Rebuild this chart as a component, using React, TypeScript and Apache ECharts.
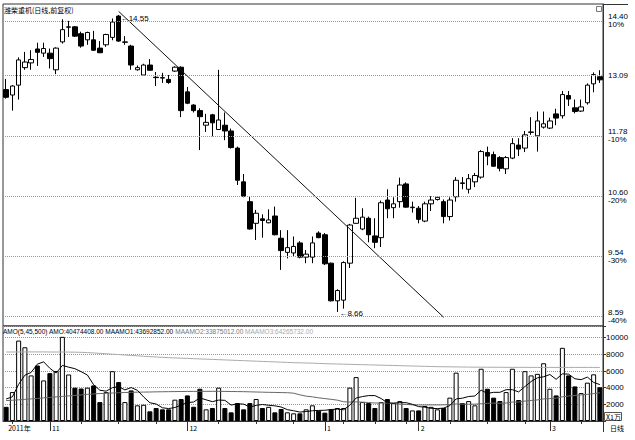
import React, { useEffect, useRef } from 'react';
import * as echarts from 'echarts';

// Trading days shown on the daily chart
const dates = [
  '2011-10-21','2011-10-24','2011-10-25','2011-10-26','2011-10-27','2011-10-28','2011-10-31',
  '2011-11-01','2011-11-02','2011-11-03','2011-11-04','2011-11-07','2011-11-08','2011-11-09','2011-11-10','2011-11-11',
  '2011-11-14','2011-11-15','2011-11-16','2011-11-17','2011-11-18','2011-11-21','2011-11-22','2011-11-23','2011-11-24',
  '2011-11-25','2011-11-28','2011-11-29','2011-11-30',
  '2011-12-01','2011-12-02','2011-12-05','2011-12-06','2011-12-07','2011-12-08','2011-12-09','2011-12-12','2011-12-13',
  '2011-12-14','2011-12-15','2011-12-16','2011-12-19','2011-12-20','2011-12-21','2011-12-22','2011-12-23','2011-12-26',
  '2011-12-27','2011-12-28','2011-12-29','2011-12-30',
  '2012-01-04','2012-01-05','2012-01-06','2012-01-09','2012-01-10','2012-01-11','2012-01-12','2012-01-13','2012-01-16',
  '2012-01-17','2012-01-18','2012-01-19','2012-01-20','2012-01-30','2012-01-31',
  '2012-02-01','2012-02-02','2012-02-03','2012-02-06','2012-02-07','2012-02-08','2012-02-09','2012-02-10','2012-02-13',
  '2012-02-14','2012-02-15','2012-02-16','2012-02-17','2012-02-20','2012-02-21','2012-02-22','2012-02-23','2012-02-24',
  '2012-02-27','2012-02-28','2012-02-29',
  '2012-03-01','2012-03-02','2012-03-05','2012-03-06','2012-03-07','2012-03-08','2012-03-09','2012-03-12','2012-03-13',
];

const opens = [
  12.77, 12.65, 12.87, 13.27, 13.38, 13.71, 13.61, 13.61, 13.22, 13.88,
  14.24, 14.25, 14.08, 13.93, 13.93, 13.73, 13.81, 13.99, 14.52, 13.87,
  13.78, 13.22, 13.10, 13.33, 13.05, 13.04, 13.00, 13.19, 13.28, 12.72,
  12.43, 12.31, 12.00, 12.22, 11.91, 12.00, 11.88, 11.53, 10.87, 10.50,
  10.11, 10.19, 10.12, 10.24, 9.85, 9.61, 9.60, 9.77, 9.53, 9.53,
  9.94, 9.91, 9.43, 8.83, 8.84, 9.43, 10.11, 10.01, 10.20, 9.89,
  9.86, 10.53, 10.39, 10.50, 10.83, 10.39, 10.38, 10.15, 10.46, 10.54,
  10.50, 10.23, 10.59, 10.85, 10.73, 10.87, 10.96, 11.44, 11.40, 11.34,
  11.12, 11.33, 11.59, 11.53, 11.85, 11.78, 11.96, 11.94, 12.24, 12.20,
  12.64, 12.37, 12.30, 12.48, 12.90, 13.06,
];

const closes = [
  12.60, 12.85, 13.45, 13.40, 13.46, 13.63, 13.72, 13.48, 13.73, 14.18,
  14.25, 14.02, 13.78, 14.11, 13.68, 13.62, 14.06, 14.37, 13.90, 13.88,
  13.33, 13.27, 13.33, 13.21, 13.04, 13.03, 12.93, 13.28, 12.31, 12.47,
  12.31, 12.18, 12.06, 12.05, 12.11, 11.88, 11.54, 10.90, 10.60, 10.01,
  10.29, 10.16, 10.17, 9.91, 9.64, 9.69, 9.71, 9.53, 9.58, 9.77,
  9.86, 9.42, 8.83, 8.99, 9.44, 10.08, 10.20, 10.22, 9.91, 9.78,
  10.48, 10.37, 10.46, 10.81, 10.40, 10.40, 10.18, 10.46, 10.53, 10.58,
  10.23, 10.53, 10.90, 10.84, 10.93, 10.99, 11.46, 11.37, 11.17, 11.13,
  11.34, 11.62, 11.51, 11.80, 11.86, 12.09, 12.03, 12.09, 12.15, 12.66,
  12.56, 12.29, 12.39, 12.87, 13.11, 12.99,
];

const lows = [
  12.57, 12.31, 12.55, 13.22, 13.22, 13.31, 13.52, 13.25, 13.12, 13.84,
  14.00, 14.00, 13.74, 13.81, 13.66, 13.61, 13.76, 13.92, 13.88, 13.81,
  13.22, 13.20, 13.09, 13.20, 12.85, 12.92, 12.90, 13.17, 12.17, 12.45,
  12.27, 11.49, 11.86, 11.77, 11.90, 11.69, 11.52, 10.81, 10.58, 10.00,
  9.82, 9.86, 10.11, 9.90, 9.32, 9.51, 9.55, 9.51, 9.43, 9.43,
  9.85, 9.40, 8.82, 8.66, 8.71, 9.35, 10.10, 9.99, 9.78, 9.68,
  9.70, 10.20, 10.20, 10.39, 10.39, 10.30, 10.11, 10.13, 10.33, 10.52,
  10.11, 10.16, 10.50, 10.73, 10.65, 10.77, 10.93, 11.19, 11.16, 11.07,
  11.02, 11.31, 11.37, 11.45, 11.80, 11.46, 11.93, 11.92, 12.00, 12.14,
  12.41, 12.25, 12.28, 12.44, 12.71, 12.92,
];

const highs = [
  13.01, 12.87, 13.51, 13.64, 13.68, 13.86, 13.86, 13.72, 13.75, 14.44,
  14.40, 14.27, 14.13, 14.13, 14.15, 13.90, 14.08, 14.46, 14.55, 14.02,
  13.81, 13.32, 13.36, 13.47, 13.17, 13.15, 13.10, 13.30, 13.30, 12.83,
  12.45, 12.36, 12.24, 12.24, 13.22, 12.27, 11.93, 11.56, 11.02, 10.59,
  10.35, 10.27, 10.36, 10.41, 9.99, 9.99, 9.88, 9.80, 9.65, 9.88,
  9.97, 9.94, 9.44, 9.01, 9.46, 10.10, 10.57, 10.38, 10.23, 10.20,
  10.52, 10.73, 10.58, 10.95, 10.86, 10.50, 10.42, 10.50, 10.60, 10.60,
  10.54, 10.58, 10.96, 10.96, 11.02, 11.04, 11.49, 11.56, 11.46, 11.37,
  11.37, 11.73, 11.73, 11.88, 12.17, 12.29, 12.29, 12.16, 12.35, 12.74,
  12.74, 12.55, 12.55, 12.91, 13.16, 13.21,
];

// Turnover (AMO), in units of 10,000 yuan
const amo = [
  1700, 3470, 9650, 8850, 5470, 6660, 4870, 5740, 6000, 10100,
  5580, 4000, 3900, 4000, 4270, 2270, 3470, 5980, 4670, 2270,
  3670, 1880, 1950, 1160, 1560, 1400, 1400, 2560, 2640, 3070,
  1710, 3870, 1400, 1560, 4000, 1560, 1040, 2150, 1400, 2150,
  2640, 1560, 1700, 1040, 1440, 1040, 920, 920, 1400, 1880,
  1240, 1000, 1400, 1560, 1560, 4000, 5270, 2270, 2150, 1560,
  2270, 2640, 2150, 2390, 1560, 1270, 1270, 1800, 1700, 1400,
  1560, 2800, 5800, 2150, 2390, 1880, 6270, 3870, 2800, 2400,
  3470, 6270, 2520, 5980, 5470, 5660, 6930, 3870, 3070, 8780,
  5470, 4150, 3350, 4600, 5600, 4047,
];

const maamo1 = [
  2640, 2900, 4400, 5500, 5830, 6820, 7100, 6320, 5750, 6670,
  6460, 6280, 5920, 5520, 4350, 3690, 3580, 4000, 4130, 3730,
  4010, 3690, 2890, 2190, 2040, 1590, 1490, 1620, 1910, 2210,
  2280, 2770, 2540, 2320, 2510, 2480, 1910, 2060, 2030, 1660,
  1880, 1980, 1890, 1820, 1680, 1360, 1230, 1070, 1140, 1230,
  1270, 1290, 1380, 1420, 1350, 1900, 2760, 2930, 3050, 3050,
  2700, 2180, 2150, 2200, 2200, 2000, 1730, 1660, 1520, 1490,
  1550, 1850, 2650, 2740, 2940, 3000, 3700, 3310, 3440, 3440,
  3760, 3760, 3490, 4130, 4740, 5180, 5310, 5580, 5000, 5660,
  5620, 5070, 4960, 5270, 4630, 4369,
];

const maamo2 = [
  2450, 2490, 2540, 2600, 2650, 2710, 2770, 2830, 2890, 2950,
  3010, 3070, 3130, 3190, 3250, 3290, 3330, 3360, 3390, 3420,
  3440, 3460, 3470, 3480, 3500, 3510, 3520, 3530, 3540, 3550,
  3550, 3560, 3560, 3560, 3560, 3550, 3540, 3530, 3520, 3500,
  3480, 3460, 3440, 3430, 3410, 3395, 3340, 3140, 2980, 2900,
  2780, 2690, 2600, 2500, 2310, 2270, 2300, 2260, 2220, 2160,
  2160, 2150, 2060, 2010, 1990, 1940, 1930, 1920, 1940, 1930,
  1940, 1970, 2040, 2030, 2010, 2020, 2070, 2120, 2150, 2120,
  2160, 2280, 2280, 2390, 2460, 2530, 2650, 2690, 2740, 2900,
  3000, 3070, 3130, 3200, 3280, 3388,
];

const maamo3 = [
  8280, 8280, 8290, 8290, 8290, 8290, 8290, 8280, 8280, 8280,
  8270, 8260, 8240, 8210, 8170, 8120, 8070, 8020, 7970, 7920,
  7870, 7820, 7770, 7720, 7680, 7640, 7600, 7570, 7540, 7510,
  7480, 7450, 7420, 7390, 7360, 7330, 7300, 7270, 7240, 7210,
  7180, 7150, 7120, 7090, 7060, 7030, 7000, 6980, 6960, 6940,
  6910, 6880, 6860, 6840, 6820, 6800, 6780, 6760, 6740, 6720,
  6700, 6680, 6660, 6640, 6620, 6600, 6580, 6560, 6540, 6520,
  6510, 6500, 6490, 6480, 6470, 6460, 6460, 6450, 6450, 6450,
  6440, 6440, 6440, 6440, 6430, 6430, 6430, 6430, 6430, 6430,
  6430, 6430, 6430, 6430, 6430, 6427,
];

// Reference price lines on the right scale and their change labels
const priceLevels = [14.40, 13.09, 11.78, 10.60, 9.54, 8.59];
const levelChanges = ['10%', '', '-10%', '-20%', '-30%', '-40%'];

// Trend line drawn from the November top
const trendLine = [
  { date: '2011-11-16', price: 14.64 },
  { date: '2012-02-07', price: 8.58 },
];

const peakDate = '2011-11-16';
const peakPrice = 14.55;
const troughDate = '2012-01-06';
const troughPrice = 8.66;

const legendMain = 'AMO(5,45,500) AMO:40474408.00 MAAMO1:43692852.00 ';
const legendMa2 = 'MAAMO2:33875012.00 ';
const legendMa3 = 'MAAMO3:64265732.00';

const FONT = '"Liberation Sans", Arial, "Noto Sans CJK SC", sans-serif';
const CJK = '"Noto Sans CJK SC", "Liberation Sans", sans-serif';

const monthOf = (d: string) => d.slice(5, 7);
const monthStarts = new Set<number>();
const weekMarks = new Set<number>();
dates.forEach((d, i) => {
  if (i === 0) return;
  const prev = dates[i - 1];
  const same = monthOf(prev) === monthOf(d);
  if (!same) monthStarts.add(i);
  const day = +d.slice(8);
  const prevDay = same ? +prev.slice(8) : 0;
  [8, 16, 24].forEach((k) => {
    if (same && day >= k && prevDay < k) weekMarks.add(i);
  });
});

const axisLabelFor = (i: number) => {
  if (i === 0) return dates[0].slice(0, 4) + '年';
  if (monthStarts.has(i)) return String(+monthOf(dates[i]));
  return '';
};

export default function App() {
  const ref = useRef<HTMLDivElement>(null);

  useEffect(() => {
    if (!ref.current) return;
    const chart = echarts.init(ref.current, undefined, { renderer: 'svg' });

    const candles = dates.map((_, i) => [opens[i], closes[i], lows[i], highs[i]]);
    const volumeBars = amo.map((v, i) => ({
      value: v,
      itemStyle: {
        color: closes[i] >= opens[i] ? '#ffffff' : '#000000',
        borderColor: '#000000',
        borderWidth: 1,
      },
    }));

    const levelLines = priceLevels.map((p, i) => ({
      yAxis: p,
      label: {
        formatter: levelChanges[i] ? `${p.toFixed(2)}\n${levelChanges[i]}` : p.toFixed(2),
        padding: levelChanges[i] ? [8, 0, 0, 0] : 0,
      },
    }));

    const option: any = {
      animation: false,
      backgroundColor: '#ffffff',
      textStyle: { fontFamily: FONT },
      grid: [
        { left: 3, right: 32, top: 4, height: 322, show: true, borderColor: '#333', borderWidth: 1, backgroundColor: 'transparent' },
        { left: 3, right: 32, top: 326, height: 95, show: true, borderColor: '#333', borderWidth: 1, backgroundColor: 'transparent' },
      ],
      xAxis: [
        {
          type: 'category', gridIndex: 0, data: dates, boundaryGap: true,
          axisLine: { show: false }, axisTick: { show: false }, axisLabel: { show: false }, splitLine: { show: false },
        },
        {
          type: 'category', gridIndex: 1, data: dates, boundaryGap: true, position: 'bottom',
          axisLine: { show: true, lineStyle: { color: '#333', width: 1 } },
          axisTick: {
            show: true, alignWithLabel: true, length: 10,
            interval: (i: number) => monthStarts.has(i),
            lineStyle: { color: '#333' },
          },
          axisLabel: {
            show: true,
            interval: 0,
            formatter: (_v: string, i: number) => axisLabelFor(i),
            align: 'left', margin: 3, padding: [0, 0, 0, 2],
            fontSize: 7, color: '#000', fontFamily: CJK,
            hideOverlap: false,
          },
          splitLine: { show: false },
        },
        {
          type: 'category', gridIndex: 1, data: dates, boundaryGap: true, position: 'bottom',
          axisLine: { show: false },
          axisTick: {
            show: true, alignWithLabel: true, length: 3,
            interval: (i: number) => weekMarks.has(i),
            lineStyle: { color: '#333' },
          },
          axisLabel: { show: false },
          splitLine: { show: false },
        },
      ],
      yAxis: [
        {
          type: 'log', logBase: 10, gridIndex: 0, position: 'right', min: 8.45, max: 14.83,
          axisLine: { show: true, lineStyle: { color: '#333' } },
          axisTick: { show: false }, axisLabel: { show: false }, splitLine: { show: false },
        },
        {
          type: 'value', gridIndex: 1, position: 'right', min: 0, max: 11400, interval: 2000,
          axisLine: { show: true, lineStyle: { color: '#333' } },
          axisTick: { show: true, length: 3, lineStyle: { color: '#333' } },
          axisLabel: {
            formatter: (v: number) => (v > 0 && v % 2000 === 0 ? String(v) : ''),
            fontSize: 8, margin: 3, color: '#000',
          },
          splitLine: { show: true, lineStyle: { type: 'dotted', color: '#999', width: 1 } },
        },
      ],
      series: [
        {
          type: 'candlestick', name: 'K', xAxisIndex: 0, yAxisIndex: 0, data: candles, barWidth: 5,
          itemStyle: { color: '#ffffff', color0: '#000000', borderColor: '#000000', borderColor0: '#000000', borderWidth: 1 },
          markLine: {
            silent: true, symbol: ['none', 'none'], animation: false,
            lineStyle: { type: 'dotted', color: '#999', width: 1 },
            label: { position: 'end', distance: 5, fontSize: 8, lineHeight: 8, color: '#000', fontFamily: FONT },
            emphasis: { disabled: true },
            data: levelLines,
          },
          markPoint: {
            symbol: 'circle', symbolSize: 0, silent: true, animation: false,
            label: { show: true, position: 'right', distance: 2, fontSize: 8, color: '#000', fontFamily: FONT },
            data: [
              { coord: [peakDate, peakPrice], label: { formatter: '←' + peakPrice.toFixed(2), offset: [0, 4] } },
              { coord: [troughDate, troughPrice], label: { formatter: '←' + troughPrice.toFixed(2), offset: [0, 2] } },
            ],
          },
        },
        {
          type: 'line', name: 'trend', xAxisIndex: 0, yAxisIndex: 0,
          data: trendLine.map((p) => [p.date, p.price]),
          symbol: 'none', silent: true,
          lineStyle: { color: '#111', width: 1 },
        },
        {
          type: 'bar', name: 'AMO', xAxisIndex: 1, yAxisIndex: 1, data: volumeBars, barWidth: 5,
        },
        {
          type: 'line', name: 'MAAMO3', xAxisIndex: 1, yAxisIndex: 1, data: maamo3,
          symbol: 'none', silent: true, lineStyle: { color: '#aaaaaa', width: 1 },
        },
        {
          type: 'line', name: 'MAAMO2', xAxisIndex: 1, yAxisIndex: 1, data: maamo2,
          symbol: 'none', silent: true, lineStyle: { color: '#666666', width: 1 },
        },
        {
          type: 'line', name: 'MAAMO1', xAxisIndex: 1, yAxisIndex: 1, data: maamo1,
          symbol: 'none', silent: true, lineStyle: { color: '#000000', width: 1 },
        },
      ],
      graphic: [
        {
          type: 'text', x: 4, y: 6,
          style: { text: '潍柴重机(日线,前复权)', fontSize: 7, fill: '#000', fontFamily: CJK },
        },
        {
          type: 'text', x: 3, y: 331,
          style: {
            text: `{a|${legendMain}}{b|${legendMa2}}{c|${legendMa3}}`,
            verticalAlign: 'middle', fontSize: 6.5, fontFamily: FONT,
            rich: {
              a: { fill: '#000', fontSize: 6.5, fontFamily: FONT },
              b: { fill: '#777', fontSize: 6.5, fontFamily: FONT },
              c: { fill: '#aaa', fontSize: 6.5, fontFamily: FONT },
            },
          },
        },
        {
          type: 'line', shape: { x1: 603, y1: 4.5, x2: 628, y2: 4.5 }, style: { stroke: '#333', lineWidth: 1 },
        },
        {
          type: 'line', shape: { x1: 603.5, y1: 421, x2: 603.5, y2: 432 }, style: { stroke: '#333', lineWidth: 1 },
        },
        {
          type: 'rect', shape: { x: 596.5, y: 6.5, width: 5, height: 5 }, style: { fill: '#fff', stroke: '#777', lineWidth: 1 },
        },
        {
          type: 'rect', shape: { x: 604.5, y: 412.5, width: 17, height: 8 }, style: { fill: '#fff', stroke: '#555', lineWidth: 1 },
        },
        {
          type: 'text', x: 606, y: 416.5,
          style: { text: 'X1万', fontSize: 7, fill: '#000', fontFamily: CJK, verticalAlign: 'middle' },
        },
        {
          type: 'text', x: 610, y: 428,
          style: { text: '日线', fontSize: 7, fill: '#000', fontFamily: CJK, verticalAlign: 'middle' },
        },
      ],
    };

    chart.setOption(option);
    return () => chart.dispose();
  }, []);

  return (
    <div
      ref={ref}
      style={{ position: 'absolute', left: 0, top: 0, width: 635, height: 440, background: '#fff' }}
    />
  );
}
